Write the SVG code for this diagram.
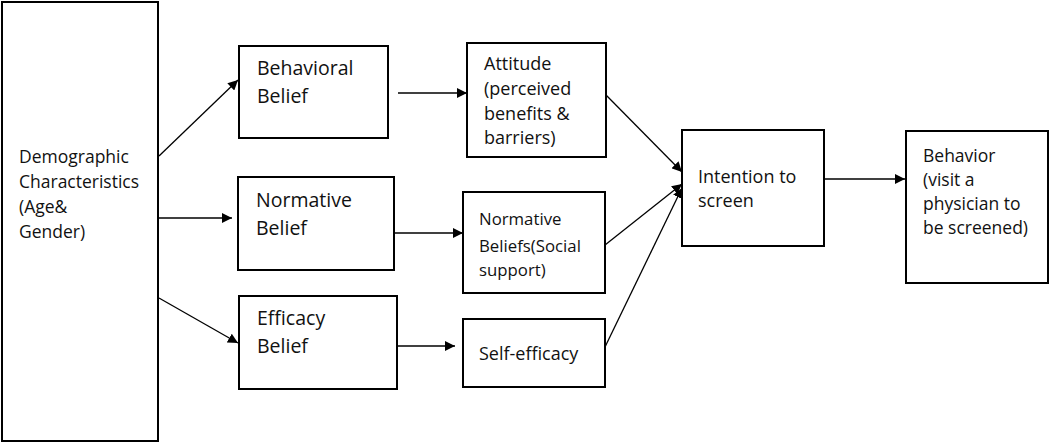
<svg xmlns="http://www.w3.org/2000/svg" width="1050" height="444" viewBox="0 0 1050 444">
<style>
.box{fill:#fff;stroke:#000;stroke-width:2}
text{font-family:"Open Sans","Liberation Sans",sans-serif;fill:#111}
.t17{font-size:17.5px}
.t18{font-size:18px}
.t19{font-size:19.5px}
.t16{font-size:16.8px}
.c{stroke:#000;stroke-width:1.3;fill:none;marker-end:url(#ah)}
</style>
<defs>
<marker id="ah" viewBox="0 0 10 10" refX="10" refY="5" markerWidth="10" markerHeight="10" markerUnits="userSpaceOnUse" orient="auto">
<path d="M0,0 L10,5 L0,10 z" fill="#000"/>
</marker>
</defs>
<rect width="1050" height="444" fill="#fff"/>
<g id="demographic">
<rect class="box" x="2" y="2" width="156" height="439"/>
<text class="t17" x="19" y="163">Demographic</text>
<text class="t17" x="19" y="188">Characteristics</text>
<text class="t17" x="19" y="213">(Age&amp;</text>
<text class="t17" x="19" y="238">Gender)</text>
</g>
<g id="behavioral-belief">
<rect class="box" x="239" y="46" width="149" height="92"/>
<text class="t19" x="257" y="75">Behavioral</text>
<text class="t19" x="257" y="103">Belief</text>
</g>
<g id="normative-belief">
<rect class="box" x="238" y="177" width="156" height="93"/>
<text class="t19" x="256" y="207">Normative</text>
<text class="t19" x="256" y="235">Belief</text>
</g>
<g id="efficacy-belief">
<rect class="box" x="239" y="296" width="158" height="93"/>
<text class="t19" x="257" y="325">Efficacy</text>
<text class="t19" x="257" y="353">Belief</text>
</g>
<g id="attitude">
<rect class="box" x="467" y="43" width="139" height="114"/>
<text class="t18" x="484" y="70">Attitude</text>
<text class="t18" x="484" y="95">(perceived</text>
<text class="t18" x="484" y="120">benefits &amp;</text>
<text class="t18" x="484" y="144">barriers)</text>
</g>
<g id="normative-beliefs">
<rect class="box" x="463" y="192" width="142" height="101"/>
<text class="t16" x="479" y="225">Normative</text>
<text class="t16" x="479" y="252">Beliefs(Social</text>
<text class="t16" x="479" y="276">support)</text>
</g>
<g id="self-efficacy">
<rect class="box" x="463" y="319" width="142" height="68"/>
<text class="t18" x="479" y="360">Self-efficacy</text>
</g>
<g id="intention">
<rect class="box" x="682" y="130" width="142" height="116"/>
<text class="t18" x="698" y="183">Intention to</text>
<text class="t18" x="698" y="207">screen</text>
</g>
<g id="behavior">
<rect class="box" x="906" y="131" width="142" height="152"/>
<text class="t17" x="923" y="162">Behavior</text>
<text class="t17" x="923" y="186">(visit a</text>
<text class="t17" x="923" y="210">physician to</text>
<text class="t17" x="923" y="234">be screened)</text>
</g>
<g id="connectors">
<line class="c" x1="159" y1="156" x2="238" y2="80"/>
<line class="c" x1="159" y1="218" x2="232" y2="218"/>
<line class="c" x1="159" y1="298" x2="238" y2="343"/>
<line class="c" x1="398" y1="93" x2="467" y2="93"/>
<line class="c" x1="394" y1="233" x2="463" y2="233"/>
<line class="c" x1="397" y1="346" x2="455" y2="346"/>
<line class="c" x1="606" y1="95" x2="682" y2="172"/>
<line class="c" x1="605" y1="245" x2="682" y2="184"/>
<line class="c" x1="605" y1="347" x2="682" y2="188"/>
<line class="c" x1="824" y1="179" x2="905" y2="179"/>
</g>
</svg>
